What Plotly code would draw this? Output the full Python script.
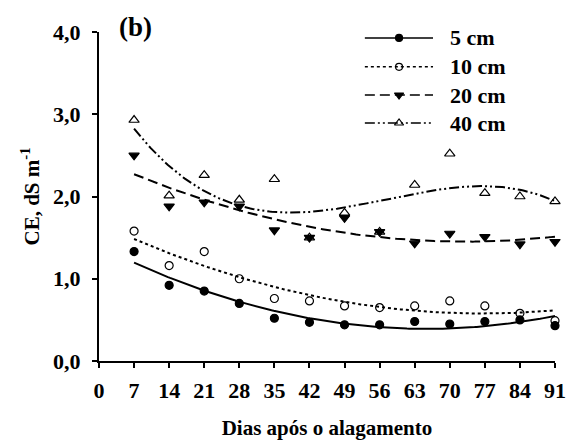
import numpy as np
import plotly.graph_objects as go

dias = [7, 14, 21, 28, 35, 42, 49, 56, 63, 70, 77, 84, 91]
ce_5cm = [1.33, 0.92, 0.85, 0.70, 0.52, 0.47, 0.44, 0.44, 0.48, 0.45, 0.48, 0.50, 0.43]
ce_10cm = [1.58, 1.16, 1.33, 1.00, 0.76, 0.73, 0.67, 0.65, 0.67, 0.73, 0.67, 0.58, 0.49]
ce_20cm = [2.50, 1.88, 1.93, 1.88, 1.59, 1.50, 1.74, 1.57, 1.43, 1.55, 1.51, 1.42, 1.45]
ce_40cm = [2.93, 2.01, 2.26, 1.96, 2.21, 1.50, 1.80, 1.57, 2.14, 2.52, 2.04, 2.00, 1.94]
series_names = ["5 cm", "10 cm", "20 cm", "40 cm"]
fit_degree = [2, 2, 2, 3]
x_ticks = [0, 7, 14, 21, 28, 35, 42, 49, 56, 63, 70, 77, 84, 91]
y_ticks = [0, 1, 2, 3, 4]
y_tick_labels = ["0,0", "1,0", "2,0", "3,0", "4,0"]

FONT = "Liberation Serif"
FS = 21
styles = [
    dict(symbol="circle", dash="solid", size=8),
    dict(symbol="circle-open", dash="dot", size=8),
    dict(symbol="triangle-down", dash="10px,5px", size=9),
    dict(symbol="triangle-up-open", dash="10px,3px,2px,3px,2px,3px", size=9),
]

def b(t):
    return "<b>" + str(t) + "</b>"

fig = go.Figure()
series = [ce_5cm, ce_10cm, ce_20cm, ce_40cm]
xd = np.array(dias, dtype=float)
xs = np.linspace(min(dias), max(dias), 200)
for name, ys, deg, st in zip(series_names, series, fit_degree, styles):
    coef = np.polyfit(xd, np.array(ys), deg)
    fig.add_trace(go.Scatter(x=xs.tolist(), y=np.polyval(coef, xs).tolist(), mode="lines",
                             line=dict(color="black", width=2, dash=st["dash"]),
                             showlegend=False, hoverinfo="skip"))
for name, ys, st in zip(series_names, series, styles):
    fig.add_trace(go.Scatter(x=dias, y=ys, mode="markers", showlegend=False, cliponaxis=False,
                             marker=dict(symbol=st["symbol"], size=st["size"], color="black",
                                         line=dict(color="black", width=1.2))))

# custom legend (paper-like coordinates via hidden overlay axes)
leg_x0, leg_x1, leg_xm, leg_xt = 0.583, 0.7325, 0.658, 0.765
leg_rows = [0.982, 0.894, 0.8085, 0.7234]
shapes = []
annotations = []
for name, st, ly in zip(series_names, styles, leg_rows):
    shapes.append(dict(type="line", xref="paper", yref="paper", x0=leg_x0, x1=leg_x1, y0=ly, y1=ly,
                       line=dict(color="black", width=1.5, dash=st["dash"])))
    fig.add_trace(go.Scatter(x=[leg_xm], y=[ly], xaxis="x2", yaxis="y2", mode="markers",
                             showlegend=False, cliponaxis=False, hoverinfo="skip",
                             marker=dict(symbol=st["symbol"], size=st["size"] - 1, color="black",
                                         line=dict(color="black", width=1.2))))
    annotations.append(dict(text=b(name), x=leg_xt, y=ly, xref="paper", yref="paper", xanchor="left",
                            yanchor="middle", showarrow=False,
                            font=dict(family=FONT, size=22, color="black")))
annotations.append(dict(text=b("(b)"), x=0.04, y=1.0, xref="paper", yref="paper", xanchor="left",
                        yanchor="bottom", showarrow=False, yshift=-12,
                        font=dict(family=FONT, size=27, color="black")))

fig.update_layout(
    template="none",
    width=579, height=445,
    margin=dict(l=99, r=24, t=32, b=84),
    paper_bgcolor="white", plot_bgcolor="white",
    font=dict(family=FONT, size=FS, color="black"),
    showlegend=False,
    shapes=shapes,
    annotations=annotations,
    xaxis=dict(range=[0, 91], tickvals=x_ticks, ticktext=[b(v) for v in x_ticks],
               ticks="outside", ticklen=5, tickwidth=1.5, tickcolor="black", ticklabelstandoff=4,
               showline=True, linecolor="black", linewidth=2, showgrid=False, zeroline=False,
               tickfont=dict(family=FONT, size=22, color="black"),
               title=dict(text=b("Dias após o alagamento"), standoff=18,
                          font=dict(family=FONT, size=FS, color="black"))),
    yaxis=dict(range=[0, 4], tickvals=y_ticks, ticktext=[b(t) for t in y_tick_labels],
               ticks="outside", ticklen=5, tickcolor="black", ticklabelstandoff=7,
               tickwidth=1.5, showline=True, linecolor="black", linewidth=2, showgrid=False,
               zeroline=False, tickfont=dict(family=FONT, size=22, color="black"),
               title=dict(text=b("CE, dS m<sup>-1</sup>"), standoff=8,
                          font=dict(family=FONT, size=FS, color="black"))),
    xaxis2=dict(range=[0, 1], overlaying="x", visible=False),
    yaxis2=dict(range=[0, 1], overlaying="y", visible=False),
)
fig.write_html("out.html")
